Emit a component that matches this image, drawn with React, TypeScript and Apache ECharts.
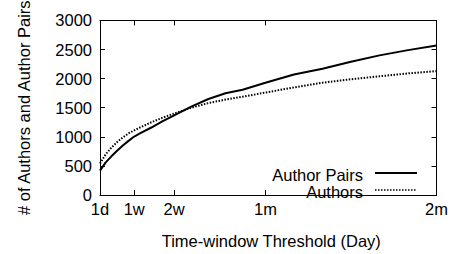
import React, { useEffect, useRef } from "react";
import * as echarts from "echarts";

const days = [1, 2, 3, 4, 5, 6, 7, 8, 10, 12, 14, 17, 20, 23, 26, 30, 35, 40, 45, 50, 55, 60];
const authorPairs = [420, 560, 665, 760, 850, 930, 1005, 1060, 1160, 1270, 1370, 1520, 1650, 1750, 1810, 1930, 2070, 2170, 2290, 2400, 2490, 2570];
const authors = [540, 700, 815, 910, 990, 1060, 1110, 1160, 1250, 1330, 1400, 1500, 1580, 1640, 1690, 1760, 1850, 1930, 1990, 2040, 2090, 2130];
const tickDays = [1, 7, 14, 30, 60];
const tickLabels = ["1d", "1w", "2w", "1m", "2m"];
const seriesNames = ["Author Pairs", "Authors"];
const xTitle = "Time-window Threshold (Day)";
const yTitle = "# of Authors and Author Pairs";

const FONT = "Liberation Sans, Arial, sans-serif";
const FS = 16.5;

export default function App() {
  const ref = useRef<HTMLDivElement>(null);
  useEffect(() => {
    if (!ref.current) return;
    const chart = echarts.init(ref.current, null, { renderer: "svg" });
    const axisLine = { show: true, onZero: false, lineStyle: { color: "#000", width: 1 } };
    const tick = (vals?: number[]) => ({
      show: true,
      inside: true,
      length: 5,
      ...(vals ? { customValues: vals } : {}),
      lineStyle: { color: "#000", width: 1 },
    });
    chart.setOption({
      animation: false,
      grid: { left: 100, right: 12, top: 17, bottom: 52 },
      xAxis: [
        {
          type: "value",
          min: 1,
          max: 60,
          position: "bottom",
          axisLine,
          axisTick: tick(tickDays),
          axisLabel: {
            customValues: tickDays,
            formatter: (v: number) => tickLabels[tickDays.indexOf(v)] ?? "",
            color: "#000",
            fontSize: FS,
            fontFamily: FONT,
            margin: 5,
          },
          splitLine: { show: false },
          name: xTitle,
          nameLocation: "middle",
          nameGap: 37,
          nameTextStyle: { color: "#000", fontSize: FS, fontFamily: FONT, padding: [0, 0, 0, 6] },
        },
        {
          type: "value",
          min: 1,
          max: 60,
          position: "top",
          axisLine,
          axisTick: tick(tickDays),
          axisLabel: { show: false },
          splitLine: { show: false },
        },
      ],
      yAxis: [
        {
          type: "value",
          min: 0,
          max: 3000,
          interval: 500,
          position: "left",
          axisLine,
          axisTick: tick(),
          axisLabel: {
            color: "#000",
            fontSize: FS,
            fontFamily: FONT,
            margin: 8,
            formatter: (v: number) => String(v),
          },
          splitLine: { show: false },
          name: yTitle,
          nameLocation: "middle",
          nameGap: 68,
          nameTextStyle: { color: "#000", fontSize: FS, fontFamily: FONT },
        },
        {
          type: "value",
          min: 0,
          max: 3000,
          interval: 500,
          position: "right",
          axisLine,
          axisTick: tick(),
          axisLabel: { show: false },
          splitLine: { show: false },
        },
      ],
      series: [
        {
          name: seriesNames[0],
          type: "line",
          data: days.map((d, i) => [d, authorPairs[i]]),
          symbol: "none",
          lineStyle: { color: "#000", width: 2 },
        },
        {
          name: seriesNames[1],
          type: "line",
          data: days.map((d, i) => [d, authors[i]]),
          symbol: "none",
          lineStyle: { color: "#000", width: 2, type: [1.5, 1.5] },
        },
      ],
      graphic: [
        {
          type: "text",
          x: 363,
          y: 175,
          style: { text: seriesNames[0], textAlign: "right", textVerticalAlign: "middle", fill: "#000", fontSize: FS, fontFamily: FONT },
        },
        {
          type: "line",
          shape: { x1: 375, y1: 173, x2: 417, y2: 173 },
          style: { stroke: "#000", lineWidth: 2 },
        },
        {
          type: "text",
          x: 363,
          y: 191.5,
          style: { text: seriesNames[1], textAlign: "right", textVerticalAlign: "middle", fill: "#000", fontSize: FS, fontFamily: FONT },
        },
        {
          type: "line",
          shape: { x1: 375, y1: 190, x2: 417, y2: 190 },
          style: { stroke: "#000", lineWidth: 1.5, lineDash: [1.5, 1.5] },
        },
      ],
    });
    return () => chart.dispose();
  }, []);
  return <div ref={ref} style={{ width: 451, height: 254, position: "absolute", left: 0, top: 0 }} />;
}
